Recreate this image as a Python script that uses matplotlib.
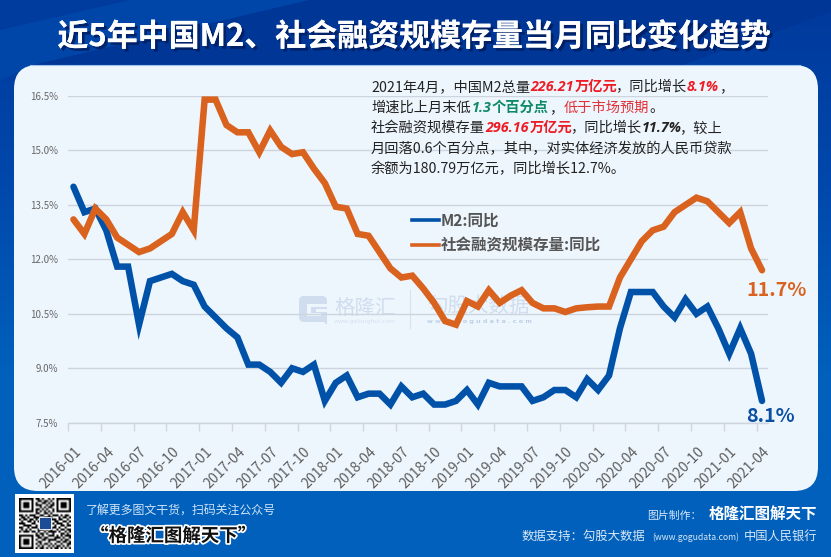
import numpy as np
import matplotlib
matplotlib.use("Agg")
import matplotlib.pyplot as plt
import matplotlib.patheffects as pe
from matplotlib.patches import FancyBboxPatch, Polygon, Rectangle
from matplotlib.lines import Line2D
from matplotlib.transforms import ScaledTranslation
from matplotlib.colors import LinearSegmentedColormap

CJK = ['Noto Sans CJK SC', 'DejaVu Sans']
plt.rcParams['font.family'] = CJK

months = [f"{y}-{m:02d}" for y in range(2016, 2022) for m in range(1, 13)][:64]
m2 = [14.0, 13.3, 13.4, 12.8, 11.8, 11.8, 10.2, 11.4, 11.5, 11.6, 11.4, 11.3,
      10.7, 10.4, 10.1, 9.85, 9.1, 9.1, 8.9, 8.6, 9.0, 8.9, 9.1, 8.1,
      8.6, 8.8, 8.2, 8.3, 8.3, 8.0, 8.5, 8.2, 8.3, 8.0, 8.0, 8.1,
      8.4, 8.0, 8.6, 8.5, 8.5, 8.5, 8.1, 8.2, 8.4, 8.4, 8.2, 8.7,
      8.4, 8.8, 10.1, 11.1, 11.1, 11.1, 10.7, 10.4, 10.9, 10.5, 10.7, 10.1,
      9.4, 10.1, 9.4, 8.1]
tsf = [13.1, 12.7, 13.4, 13.1, 12.6, 12.4, 12.2, 12.3, 12.5, 12.7, 13.3, 12.8,
       16.4, 16.4, 15.7, 15.5, 15.5, 14.95, 15.55, 15.1, 14.9, 14.95, 14.5, 14.1,
       13.45, 13.4, 12.7, 12.65, 12.2, 11.75, 11.5, 11.55, 11.2, 10.8, 10.3, 10.2,
       10.85, 10.7, 11.15, 10.8, 11.0, 11.15, 10.8, 10.65, 10.65, 10.55, 10.65, 10.68,
       10.7, 10.7, 11.5, 12.0, 12.5, 12.8, 12.9, 13.3, 13.5, 13.7, 13.6, 13.3,
       13.0, 13.3, 12.3, 11.7]
yticks = [7.5, 9.0, 10.5, 12.0, 13.5, 15.0, 16.5]
series_names = ['M2:同比', '社会融资规模存量:同比']
end_labels = ['8.1%', '11.7%']
title = '近5年中国M2、社会融资规模存量当月同比变化趋势'
note_lines = [
    [('2021年4月，中国M2总量', 'n'), ('226.21', 'ri'), ('万亿元', 'r'), ('，同比增长', 'n'), ('8.1%', 'ri'), ('，', 'n')],
    [('增速比上月末低', 'n'), ('1.3', 'gi'), ('个百分点', 'g'), ('，', 'n'), ('低于市场预期', 'rn'), ('。', 'n')],
    [('社会融资规模存量', 'n'), ('296.16', 'ri'), ('万亿元', 'r'), ('，同比增长', 'n'), ('11.7%', 'ki'), ('，较上', 'n')],
    [('月回落0.6个百分点，其中，对实体经济发放的人民币贷款', 'n')],
    [('余额为180.79万亿元，同比增长12.7%。', 'n')],
]
qr_rows = [
    "1111111011010010101111111",
    "1000001001101101001000001",
    "1011101010011010101011101",
    "1011101011100101101011101",
    "1011101000101011001011101",
    "1000001011010100101000001",
    "1111111010101010101111111",
    "0000000011001101000000000",
    "1101011100110010111010110",
    "0110100111001111000101101",
    "1011011010110001110110010",
    "0100110101000000011001101",
    "1110001100000000101110010",
    "0011110010000000010011011",
    "1100101110000000110100100",
    "0101010001110101001011011",
    "1011101101001011110100101",
    "0000000010110100100011010",
    "1111111011010011101010111",
    "1000001001101100011101001",
    "1011101010011011110010110",
    "1011101001100010001101101",
    "1011101010101101010010011",
    "1000001001010010101101010",
    "1111111010110101011010101",
]

W, H = 831, 557
fig = plt.figure(figsize=(W / 100, H / 100), dpi=100)

# ---- background layer, pixel coordinates ----
bg = fig.add_axes([0, 0, 1, 1], zorder=0)
bg.set_xlim(0, W); bg.set_ylim(H, 0); bg.axis('off')
cmap = LinearSegmentedColormap.from_list('b', ['#00399C', '#0048AC', '#0060BC', '#0060BC'])
bg.imshow(np.linspace(0, 1, 256).reshape(-1, 1), cmap=cmap, extent=(0, W, H, 0), aspect='auto', zorder=0)
bg.set_xlim(0, W); bg.set_ylim(H, 0)
bg.add_patch(Polygon([(0, 0), (310, 0), (33, 65), (0, 80)], fc='#0046A8', ec='none', zorder=1))
bg.add_patch(Polygon([(0, 0), (130, 0), (0, 30)], fc='#003C9E', ec='none', zorder=1))
bg.add_patch(Polygon([(310, 0), (831, 0), (831, 12), (683, 65), (33, 65)], fc='#003696', ec='none', zorder=1))
bg.add_patch(Rectangle((0, 491), W, 66, fc='#0060BC', ec='none', zorder=1))
bg.add_patch(FancyBboxPatch((14 + 24, 65 + 24), 804 - 48, 426 - 48,
                            boxstyle='round,pad=24,rounding_size=24',
                            fc='#EEF6FD', ec='none', zorder=2))
bg.plot([30, 800], [65, 65], color='#9CC4EA', lw=0.8, zorder=2)

# watermarks
wm = '#CFDDEE'
bg.add_patch(FancyBboxPatch((301, 298), 24, 22, boxstyle='round,pad=2,rounding_size=5',
                            fc=wm, ec='none', zorder=3))
bg.add_patch(Rectangle((307, 304), 22, 3, fc='#EEF6FD', ec='none', zorder=4))
bg.add_patch(Rectangle((307, 304), 4, 12, fc='#EEF6FD', ec='none', zorder=4))
bg.add_patch(Rectangle((307, 313), 14, 3, fc='#EEF6FD', ec='none', zorder=4))
bg.add_patch(Rectangle((316, 309), 13, 3, fc='#EEF6FD', ec='none', zorder=4))
bg.add_patch(Polygon([(318, 316), (327, 316), (327, 325)], fc=wm, ec='none', zorder=4))
bg.text(334, 308, '格隆汇', fontsize=14.8, color=wm, ha='left', va='center', zorder=3)
bg.text(334, 322, 'www.gelonghui.com', fontsize=4.4, color='#D5E1F0', ha='left', va='center',
        family='DejaVu Sans', zorder=3)
bg.plot([409.5, 409.5], [290, 328], color='#D5E1F0', lw=0.8, zorder=3)
bg.text(427, 306, '勾股大数据', fontsize=14.8, color=wm, ha='left', va='center', zorder=3)
bg.text(427, 322, 'w w w . g o g u d a t a . c o m', fontsize=4.6, color='#BFD0E6', ha='left', va='center',
        family='DejaVu Sans', weight='bold', zorder=3)

# QR block
bg.add_patch(Rectangle((15, 494), 59, 59, fc='white', ec='none', zorder=3))
qr = np.array([[int(c) for c in r] for r in qr_rows])
bg.imshow(1 - qr, cmap='gray', vmin=0, vmax=1, extent=(19, 71, 549, 498), aspect='auto',
          interpolation='bilinear', zorder=4)
bg.add_patch(Rectangle((39, 517), 12, 12, fc='#1C4C94', ec='white', lw=0.6, zorder=5))
bg.set_xlim(0, W); bg.set_ylim(H, 0)

# ---- chart ----
left, right, top, bottom = 68, 767.5, 96, 422.7
ax = fig.add_axes([left / W, 1 - bottom / H, (right - left) / W, (bottom - top) / H], zorder=1)
ax.patch.set_visible(False)
x = np.arange(len(months))
c_m2, c_tsf = '#0052A8', '#D9621F'
ax.plot(x, m2, color=c_m2, lw=4.7, solid_joinstyle='miter', solid_capstyle='round', zorder=3, clip_on=False)
ax.plot(x, tsf, color=c_tsf, lw=4.7, solid_joinstyle='miter', solid_capstyle='round', zorder=4, clip_on=False)
ax.set_xlim(-0.5, len(months) - 0.5)
ax.set_ylim(7.5, 16.5)
ax.set_yticks(yticks, [f'{v:.1f}%' for v in yticks], fontsize=7, color='#666666')
ax.tick_params(axis='y', length=0, pad=7)
tick_idx = x[::3]
ax.set_xticks(tick_idx - 0.5, [months[i] for i in tick_idx], fontsize=10.1, color='#5E5E5E',
              rotation=45, ha='right', va='top', rotation_mode='anchor')
ax.tick_params(axis='x', length=6, width=1, color='#D0D6DE', pad=10)
off = ScaledTranslation(6 / 100, 0, fig.dpi_scale_trans)
for lab in ax.get_xticklabels():
    lab.set_transform(lab.get_transform() + off)
ax.grid(axis='y', color='#CDD4DD', lw=1.0, zorder=1)
for s in ['top', 'right', 'left']:
    ax.spines[s].set_visible(False)
ax.spines['bottom'].set_color('#CDD4DD')
ax.spines['bottom'].set_linewidth(1.0)
ax.annotate(end_labels[0], (x[-1], m2[-1]), xytext=(-16, -6), textcoords='offset pixels',
            fontsize=14.2, color='#0B4FA3', weight='bold', ha='left', va='top', annotation_clip=False, zorder=6)
ax.annotate(end_labels[1], (x[-1], tsf[-1]), xytext=(-16, -11), textcoords='offset pixels',
            fontsize=14.2, color=c_tsf, weight='bold', ha='left', va='top', annotation_clip=False, zorder=6)
handles = [Line2D([], [], color=c_m2, lw=2.6), Line2D([], [], color=c_tsf, lw=2.6)]
ax.legend(handles, series_names, loc='upper left',
          bbox_to_anchor=((400 - left) / (right - left), 1 - (200.5 - top) / (bottom - top)),
          frameon=False, labelcolor='#555555', prop={'size': 11.2, 'weight': 'bold'},
          handlelength=1.7, handletextpad=0.1, labelspacing=0.55, borderpad=0.3)

# ---- overlay text ----
ov = fig.add_axes([0, 0, 1, 1], zorder=3)
ov.set_xlim(0, W); ov.set_ylim(H, 0); ov.axis('off'); ov.patch.set_visible(False)
ov.text(414.5, 37, title, fontsize=22.3, color='white', weight='bold', ha='center', va='center',
        path_effects=[pe.withSimplePatchShadow(offset=(2, -2), shadow_rgbFace='#001C5C', alpha=0.8), pe.Normal()])

latin = ['Open Sans', 'DejaVu Sans']
styles = {
    'n': dict(color='#222222'),
    'r': dict(color='#EE1C25', weight='bold'),
    'g': dict(color='#0E8A66', weight='bold'),
    'rn': dict(color='#E0323A'),
    'ri': dict(color='#EE1C25', weight='bold', style='italic', family=latin),
    'gi': dict(color='#0E8A66', weight='bold', style='italic', family=latin),
    'ki': dict(color='#222222', weight='bold', style='italic', family=latin),
}
renderer = fig.canvas.get_renderer()
note_y = [87, 108, 128, 149, 169]
for runs, yy in zip(note_lines, note_y):
    cx = 371.0
    for s, k in runs:
        if s[0] in '，。':
            cx -= 0.6 if len(s) == 1 else 3.0
        t = ov.text(cx, yy, s, fontsize=10.25, ha='left', va='center', **styles[k])
        cx += t.get_window_extent(renderer).width + 0.6

ov.text(86, 511.5, '了解更多图文干货，扫码关注公众号', fontsize=8.6, color='#CFE4F7', ha='left', va='center')
ov.text(90, 536, '“格隆汇图解天下”', fontsize=13.3, color='#111111', weight='bold', ha='left', va='center',
        path_effects=[pe.withStroke(linewidth=2.5, foreground='white')])
ov.text(647, 516, '图片制作：', fontsize=7.8, color='#D8E8F6', ha='left', va='center')
ov.text(817, 515, '格隆汇图解天下', fontsize=11.2, color='white', weight='bold', ha='right', va='center')
ov.text(522, 536, '数据支持：勾股大数据', fontsize=8.9, color='#D8E8F6', ha='left', va='center')
ov.text(652, 537, '(www.gogudata.com)', fontsize=6.2, color='#D8E8F6', ha='left', va='center')
ov.text(817, 536, '中国人民银行', fontsize=8.8, color='#D8E8F6', ha='right', va='center')

fig.savefig('out.png', dpi=100)
